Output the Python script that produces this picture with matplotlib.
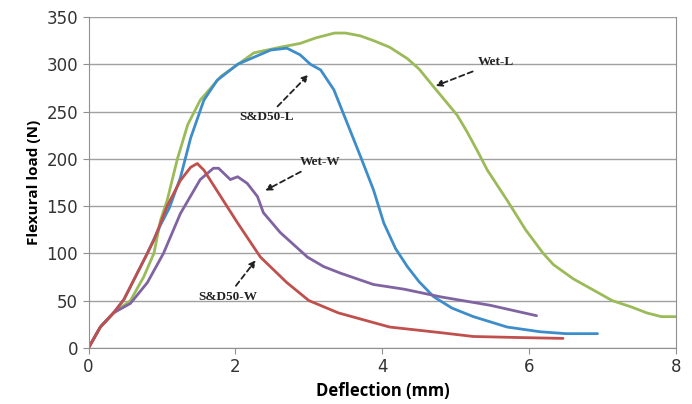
import matplotlib.pyplot as plt

# Wet-L (green)
wetl_x = [0, 0.16, 0.34, 0.57, 0.75, 0.89, 0.98, 1.07, 1.21, 1.35, 1.52, 1.8, 2.0, 2.25, 2.61, 2.88, 3.1, 3.35, 3.5, 3.7, 3.88, 4.1, 4.34, 4.5, 4.7, 4.85, 5.02, 5.15, 5.29, 5.43, 5.7, 5.95, 6.19, 6.33, 6.6, 6.9, 7.13, 7.4, 7.6, 7.8, 8.0]
wetl_y = [0, 22, 37, 50, 75, 100, 135, 156, 200, 236, 262, 287, 298, 312, 318, 322, 328, 333, 333, 330, 325, 318, 306, 295, 276, 262, 246, 229, 209, 188, 156, 125, 100, 88, 73, 60, 50, 43, 37, 33, 33]

# S&D50-L (blue)
sdl_x = [0, 0.16, 0.34, 0.48, 0.8, 0.98, 1.1, 1.25, 1.39, 1.57, 1.75, 2.03, 2.48, 2.7, 2.88, 3.02, 3.16, 3.34, 3.52, 3.7, 3.88, 4.02, 4.18, 4.34, 4.5, 4.7, 4.95, 5.24, 5.7, 6.15, 6.5, 6.93]
sdl_y = [0, 22, 37, 51, 100, 130, 148, 180, 222, 262, 283, 300, 315, 317, 310, 300, 294, 273, 238, 203, 167, 132, 105, 86, 70, 54, 42, 33, 22, 17, 15, 15]

# Wet-W (purple)
wetw_x = [0, 0.16, 0.34, 0.57, 0.8, 1.02, 1.25, 1.52, 1.7, 1.77, 1.93, 2.03, 2.16, 2.3, 2.38, 2.61, 2.98, 3.2, 3.43, 3.88, 4.3, 4.79, 5.47, 6.1]
wetw_y = [0, 22, 37, 47, 69, 100, 142, 178, 190, 190, 178, 181, 174, 160, 143, 122, 96, 86, 79, 67, 62, 54, 45, 34]

# S&D50-W (red)
sdw_x = [0, 0.16, 0.34, 0.48, 0.8, 0.89, 1.07, 1.25, 1.39, 1.48, 1.57, 1.8, 2.03, 2.34, 2.7, 3.0, 3.4, 4.1, 4.8, 5.24, 5.8, 6.46]
sdw_y = [0, 22, 37, 51, 100, 114, 150, 177, 191, 195, 188, 160, 132, 96, 69, 50, 37, 22, 16, 12, 11, 10]

fig = plt.figure(figsize=(6.92, 4.04), dpi=100)
ax = fig.add_axes([0.128, 0.139, 0.849, 0.819])

kw = dict(lw=2.0, solid_joinstyle='round', solid_capstyle='round')
ax.plot(wetl_x, wetl_y, color='#9BBB59', **kw)
ax.plot(sdl_x, sdl_y, color='#3D8DCB', **kw)
ax.plot(wetw_x, wetw_y, color='#8064A2', **kw)
ax.plot(sdw_x, sdw_y, color='#C0504D', **kw)

ax.set_xlim(0, 8)
ax.set_ylim(0, 350)
ax.set_xticks([0, 2, 4, 6, 8])
ax.set_yticks(range(0, 351, 50))
ax.yaxis.grid(True, color='#a0a0a0', lw=1)
ax.set_axisbelow(True)
for s in ['left', 'bottom', 'right', 'top']:
    ax.spines[s].set_color('#909090')
ax.spines['top'].set_visible(False)
ax.tick_params(colors='#909090', labelcolor='#333333', labelsize=12, length=4)

ax.set_xlabel('Deflection (mm)', fontsize=12, fontweight='bold', family='Open Sans')
ax.set_ylabel('Flexural load (N)', fontsize=11, fontweight='bold', family='Open Sans')

ann = dict(arrowstyle='-|>', linestyle=(0, (3, 2)), color='#222222', lw=1.3)
txt = dict(fontsize=9.5, fontweight='bold', family='Liberation Serif', ha='center', va='center', color='#222222')
ax.annotate('Wet-L', xy=(4.69, 276), xytext=(5.55, 302), arrowprops=ann, **txt)
ax.annotate('S&D50-L', xy=(3.02, 291), xytext=(2.43, 244), arrowprops=ann, **txt)
ax.annotate('Wet-W', xy=(2.37, 165), xytext=(3.15, 197), arrowprops=ann, **txt)
ax.annotate('S&D50-W', xy=(2.3, 95), xytext=(1.89, 54), arrowprops=ann, **txt)

fig.savefig('out.png', dpi=100)
